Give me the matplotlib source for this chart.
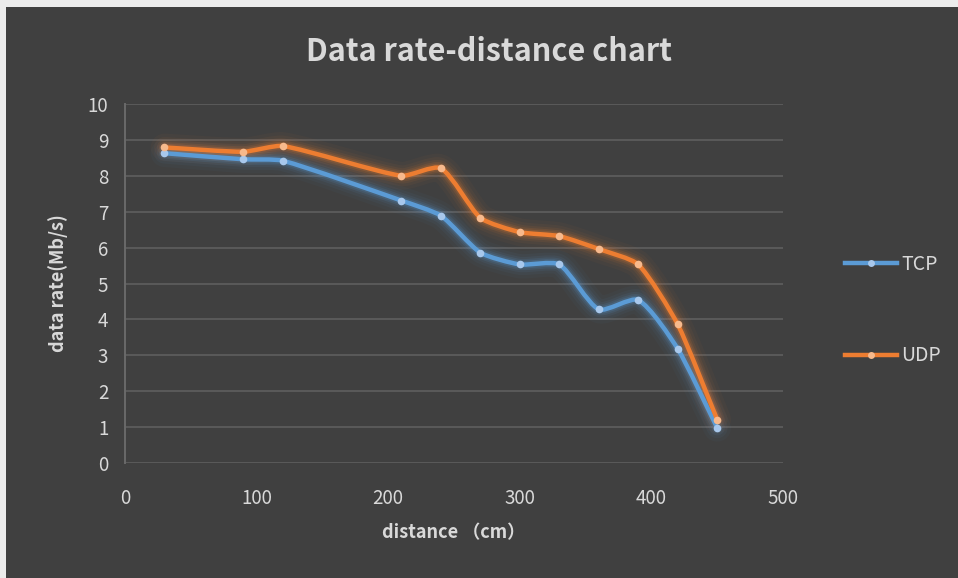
import matplotlib.pyplot as plt
import numpy as np
from matplotlib.path import Path
from matplotlib.patches import PathPatch, Rectangle
from matplotlib.lines import Line2D

# Measured data rate against distance
distance = [30, 90, 120, 210, 240, 270, 300, 330, 360, 390, 420, 450]
tcp_rate = [8.63, 8.46, 8.42, 7.31, 6.89, 5.86, 5.53, 5.53, 4.28, 4.54, 3.18, 0.98]
udp_rate = [8.79, 8.67, 8.83, 8.00, 8.21, 6.83, 6.43, 6.32, 5.96, 5.53, 3.86, 1.21]

x_ticks = [0, 100, 200, 300, 400, 500]
y_ticks = list(range(0, 11))

bg = '#404040'
grid_col = '#5a5a5a'
text_col = '#d9d9d9'
tcp_col = '#5b9bd5'
udp_col = '#ed7d31'
tcp_dot = '#a8c8ec'
udp_dot = '#f7b98c'

font = ['Noto Sans CJK SC', 'DejaVu Sans']
plt.rcParams['font.family'] = font

# plot area in pixels
ax_left, ax_right, ax_top, ax_bottom = 125, 783, 104, 463
xmax, ymax = 500, 10


def smooth_path(xs, ys, t=0.2):
    # bezier through each point; tangents are worked out in screen units so the
    # curve does not bulge on short segments next to long ones
    sx = (ax_right - ax_left) / xmax
    sy = (ax_bottom - ax_top) / ymax
    pts = np.column_stack([np.asarray(xs) * sx, np.asarray(ys) * sy]).astype(float)
    n = len(pts)
    tang = []
    for i in range(n):
        a = pts[max(i - 1, 0)]
        b = pts[min(i + 1, n - 1)]
        d = b - a
        tang.append(d / np.linalg.norm(d))
    verts = [pts[0]]
    codes = [Path.MOVETO]
    for i in range(n - 1):
        p1, p2 = pts[i], pts[i + 1]
        seg = np.linalg.norm(p2 - p1)
        verts += [p1 + tang[i] * seg * t, p2 - tang[i + 1] * seg * t, p2]
        codes += [Path.CURVE4] * 3
    verts = np.array(verts) / [sx, sy]
    return Path(verts, codes)


fig = plt.figure(figsize=(9.58, 5.78), dpi=100, facecolor='#ececec')
fig.patches.append(Rectangle((6 / 958, 0), 1, 1 - 7 / 578, transform=fig.transFigure,
                             facecolor=bg, edgecolor='none', zorder=-10))

ax = fig.add_axes([ax_left / 958, 1 - ax_bottom / 578,
                   (ax_right - ax_left) / 958, (ax_bottom - ax_top) / 578])
ax.set_zorder(1)
ax.patch.set_alpha(0)

for series, col, dot in [(tcp_rate, tcp_col, tcp_dot), (udp_rate, udp_col, udp_dot)]:
    path = smooth_path(distance, series)
    # soft glow underneath
    for lw, a in [(20, 0.035), (15, 0.05), (11, 0.08), (8, 0.12), (5.5, 0.18)]:
        ax.add_patch(PathPatch(path, facecolor='none', edgecolor=col, lw=lw, alpha=a,
                               capstyle='round', joinstyle='round', zorder=3))
    ax.add_patch(PathPatch(path, facecolor='none', edgecolor=col, lw=3.2,
                           capstyle='round', joinstyle='round', zorder=4))
    ax.plot(distance, series, linestyle='none', marker='o', markersize=5.5,
            markerfacecolor=dot, markeredgecolor='none', zorder=5)

ax.set_xlim(0, xmax)
ax.set_ylim(0, ymax)
ax.set_xticks(x_ticks)
ax.set_yticks(y_ticks)
ax.grid(axis='y', color=grid_col, linewidth=1.4, zorder=1)
ax.set_axisbelow(True)
for s in ['top', 'right', 'bottom']:
    ax.spines[s].set_visible(False)
ax.spines['left'].set_color('#6a6a6a')
ax.spines['left'].set_linewidth(1.4)
ax.tick_params(length=0, colors=text_col, labelsize=13.5, pad=12)
ax.tick_params(axis='x', pad=18)

ax.set_xlabel('distance （cm）', color=text_col, fontsize=13, fontweight='bold', labelpad=10)
ax.set_ylabel('data rate(Mb/s)', color=text_col, fontsize=13, fontweight='bold', labelpad=14)
fig.text(489 / 958, 1 - 52 / 578, 'Data rate-distance chart', ha='center', va='center',
         color=text_col, fontsize=22, fontweight='bold')

handles = [Line2D([], [], color=tcp_col, lw=3.2, marker='o', markersize=5,
                  markerfacecolor=tcp_dot, markeredgecolor='none'),
           Line2D([], [], color=udp_col, lw=3.2, marker='o', markersize=5,
                  markerfacecolor=udp_dot, markeredgecolor='none')]
leg = fig.legend(handles, ['TCP', 'UDP'], loc='center left',
                 bbox_to_anchor=(827 / 958, 1 - 310 / 578), frameon=False,
                 labelspacing=3.65, handlelength=2.7, handletextpad=0.2,
                 fontsize=14, labelcolor=text_col, markerfirst=True, numpoints=1)

fig.savefig('out.png', dpi=100, facecolor=fig.get_facecolor())
